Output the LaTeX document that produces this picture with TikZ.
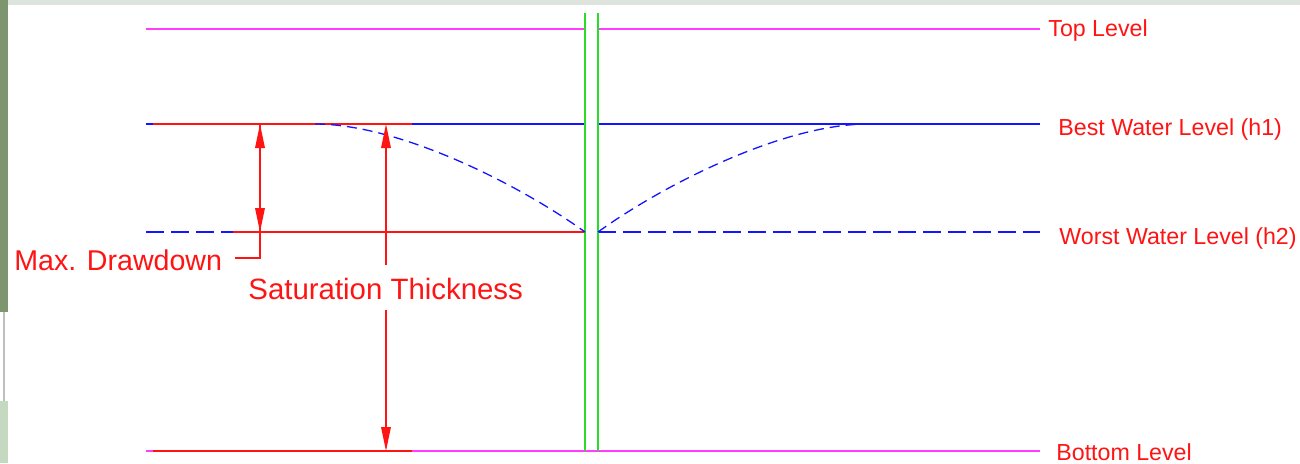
\documentclass[tikz,border=0pt]{standalone}
\usepackage{fontspec}
\setmainfont{Liberation Sans}
\usetikzlibrary{arrows.meta}
\definecolor{cmag}{RGB}{255,60,255}
\definecolor{cblue}{RGB}{20,20,255}
\definecolor{cred}{RGB}{255,20,20}
\definecolor{cgreen}{RGB}{40,220,40}
\definecolor{stripdark}{RGB}{125,150,112}
\definecolor{striplight}{RGB}{197,216,192}
\definecolor{topband}{RGB}{221,227,221}
\begin{document}
\begin{tikzpicture}[x=0.5pt,y=-0.5pt,
  ln/.style={line width=0.65pt},
  mag/.style={ln,draw=cmag},
  blu/.style={ln,draw=cblue},
  rd/.style={ln,draw=cred},
  grn/.style={ln,draw=cgreen},
  hdash/.style={dash pattern=on 9pt off 3.5pt},
  cdash/.style={dash pattern=on 5pt off 3pt},
  dimarrow/.style={rd,-{Triangle[length=12pt,width=4.8pt]},fill=cred},
  biglabel/.style={text=cred,font=\fontsize{14.3}{16}\selectfont,inner sep=0pt},
  sidelabel/.style={text=cred,font=\fontsize{11.6}{13}\selectfont,inner sep=0pt,anchor=west}]
\useasboundingbox (0,0) rectangle (1300,463);
% screenshot frame
\fill[white] (0,0) rectangle (1300,463);
\fill[topband] (8,0) rectangle (1300,5);
\fill[stripdark] (0,0) rectangle (8,312);
\fill[striplight] (0,401) rectangle (8,463);
\draw[gray!50,line width=1pt] (4,312) -- (4,401);
% coordinates
\coordinate (tl) at (146,29);
\coordinate (tr) at (1040,29);
\coordinate (bl) at (146,124);
\coordinate (bm) at (412,124);
\coordinate (br) at (1040,124);
\coordinate (wl) at (146,232);
\coordinate (wm) at (233,232);
\coordinate (wr) at (1040,232);
\coordinate (gl) at (146,451);
\coordinate (gm) at (412,451);
\coordinate (gr) at (1040,451);
\coordinate (wellL) at (585,232);
\coordinate (wellR) at (598,232);
% top level
\draw[mag] (tl) -- (585,29);
\draw[mag] (598,29) -- (tr);
% best water level
\draw[blu] (bl) -- (153,124);
\draw[rd] (153,124) -- (bm);
\draw[blu] (bm) -- (585,124);
\draw[blu] (598,124) -- (br);
% worst water level
\draw[blu,hdash] (wl) -- (wm);
\draw[rd] (wm) -- (wellL);
\draw[blu,hdash] (wellR) -- (wr);
% bottom level
\draw[mag] (gl) -- (153,451);
\draw[rd] (153,451) -- (gm);
\draw[mag] (gm) -- (gr);
% well
\draw[grn] (585,13) -- (585,451);
\draw[grn] (598,13) -- (598,451);
% drawdown cones
\draw[blu,cdash] (315,124) .. controls (400,124) and (520,185) .. (wellL);
\draw[blu,cdash] (wellR) .. controls (663,185) and (783,124) .. (868,124);
% labels
\node[sidelabel] (ttop) at (1048,30) {Top Level};
\node[sidelabel] (tbest) at (1058,129) {Best Water Level (h1)};
\node[sidelabel] (tworst) at (1059,238) {Worst Water Level (h2)};
\node[sidelabel] (tbot) at (1056,452) {Bottom Level};
\node[biglabel,anchor=west] (tmax) at (14,260) {Max. Drawdown};
\node[biglabel,anchor=west,font=\fontsize{14.7}{16}\selectfont] (tsat) at (248,289) {Saturation Thickness};
% max drawdown dimension
\coordinate (md1) at (260,124);
\coordinate (md2) at (260,232);
\coordinate (mdm) at (260,180);
\draw[rd] (md1) -- (260,258) -- (235,258);
\draw[dimarrow] (mdm) -- (md1);
\draw[dimarrow] (mdm) -- (md2);
% saturation thickness dimension
\coordinate (st1) at (386,124);
\coordinate (st2) at (386,451);
\draw[dimarrow] (386,265) -- (st1);
\draw[dimarrow] (386,310) -- (st2);
\end{tikzpicture}
\end{document}
